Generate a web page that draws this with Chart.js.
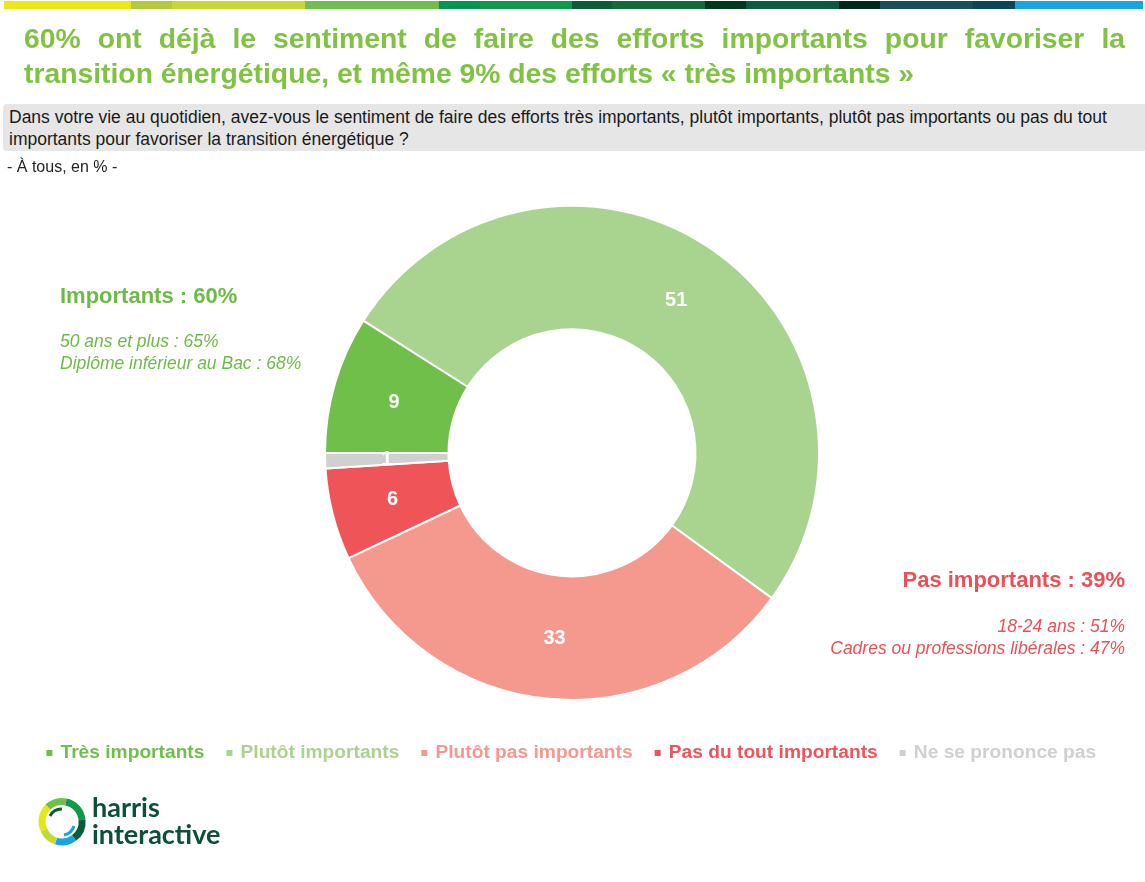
<!DOCTYPE html>
<html lang="fr">
<head>
<meta charset="utf-8">
<script src="https://cdn.jsdelivr.net/npm/chart.js@4.4.1/dist/chart.umd.min.js"></script>
<style>
  html, body { margin: 0; padding: 0; background: #fff; }
  body { width: 1145px; height: 882px; position: relative; overflow: hidden; font-family: "Liberation Sans", Arial, sans-serif; }
  #chartWrap { position: absolute; left: 0; top: 0; width: 1145px; height: 882px; }
  .abs { position: absolute; }
  #topbar { position: absolute; left: 0; top: 1px; height: 8px; width: 1145px; }
  #topbar div { position: absolute; top: 0; height: 8px; }
  #title { left: 24px; top: 21px; width: 1101px; color: #80C342; font-weight: bold; font-size: 28.3px; line-height: 35px; }
  #title .l1 { text-align: justify; text-align-last: justify; white-space: normal; }
  #question { left: 3px; top: 104px; width: 1136px; height: 45px; background: #E6E6E6; border-radius: 4px 0 0 4px; padding: 2px 0 0 6px; font-size: 17.5px; line-height: 22px; color: #1a1a1a; white-space: nowrap; }
  #base { left: 7px; top: 158px; font-size: 16px; line-height: 18px; color: #222; }
  .big { font-weight: bold; font-size: 22px; line-height: 24px; white-space: nowrap; }
  .it { font-style: italic; font-size: 17.5px; line-height: 22px; white-space: nowrap; }
  #leftBig { left: 60px; top: 284px; color: #6DBB47; }
  #leftIt { left: 60px; top: 330px; color: #6DBB47; }
  #rightBig { right: 20px; top: 568px; color: #EE4F55; text-align: right; }
  #rightIt { right: 20px; top: 615px; color: #EE4F55; text-align: right; }
  #logoText { left: 92px; top: 793px; color: #0D4F3A; font-family: Lato, "Liberation Sans", sans-serif; font-weight: bold; font-size: 27px; line-height: 27px; }
</style>
</head>
<body>
<div id="topbar"></div>
<div id="chartWrap"><canvas id="c" width="1145" height="882"></canvas></div>

<div id="title" class="abs">
  <div class="l1">60% ont déjà le sentiment de faire des efforts importants pour favoriser la</div>
  <div>transition énergétique, et même 9% des efforts « très importants »</div>
</div>
<div id="question" class="abs">Dans votre vie au quotidien, avez-vous le sentiment de faire des efforts très importants, plutôt importants, plutôt pas importants ou pas du tout<br>importants pour favoriser la transition énergétique ?</div>
<div id="base" class="abs">- À tous, en % -</div>

<div id="leftBig" class="abs big">Importants : 60%</div>
<div id="leftIt" class="abs it">50 ans et plus : 65%<br>Diplôme inférieur au Bac : 68%</div>
<div id="rightBig" class="abs big">Pas importants : 39%</div>
<div id="rightIt" class="abs it">18-24 ans : 51%<br>Cadres ou professions libérales : 47%</div>

<svg class="abs" style="left:36px;top:796px" width="52" height="52" viewBox="0 0 52 52">
  <g fill="none" stroke-width="7">
    <path d="M 8 34 A 20 20 0 0 1 12 11" stroke="#E5E71A"/>
    <path d="M 12 11 A 20 20 0 0 1 30 6" stroke="#6FBF4A"/>
    <path d="M 30 6 A 20 20 0 0 1 46 24" stroke="#0E9A4D"/>
    <path d="M 46 24 A 20 20 0 0 1 38 42" stroke="#0A5C3A"/>
    <path d="M 38 42 A 20 20 0 0 1 20 45" stroke="#16A5DE"/>
    <path d="M 20 45 A 20 20 0 0 1 8 34" stroke="#C4D934"/>
  </g>
  <g fill="none" stroke-width="3">
    <path d="M 14 20 A 13 13 0 0 1 26 13" stroke="#0A5C3A"/>
    <path d="M 38 30 A 13 13 0 0 1 28 39" stroke="#16A5DE"/>
  </g>
</svg>
<div id="logoText" class="abs">harris<br>interactive</div>

<script>
// ---- data ----
const categories = ["Très importants", "Plutôt importants", "Plutôt pas importants", "Pas du tout importants", "Ne se prononce pas"];
const values = [9, 51, 33, 6, 1];
const sliceColors = ["#70BF4A", "#A9D48F", "#F5988E", "#EF5558", "#D1D0D0"];
const topBarColors = ["#EDE71A", "#B0CC3A", "#C4D934", "#6FBF4E", "#009650", "#0E9A4D", "#0A5C3A", "#136A3A", "#003820", "#0B5A42", "#00281C", "#174F5A", "#0A4658", "#16A5DE"];
const topBarEdges = [4, 131, 172, 305, 439, 480, 572, 612, 705, 746, 839, 880, 973, 1015, 1143];

// top decorative bar
const tb = document.getElementById('topbar');
topBarColors.forEach((c, i) => {
  const d = document.createElement('div');
  d.style.left = topBarEdges[i] + 'px';
  d.style.width = (topBarEdges[i + 1] - topBarEdges[i]) + 'px';
  d.style.background = c;
  tb.appendChild(d);
});

const sliceLabels = {
  id: 'sliceLabels',
  afterDatasetsDraw(chart) {
    const ctx = chart.ctx;
    const meta = chart.getDatasetMeta(0);
    ctx.save();
    ctx.fillStyle = '#ffffff';
    ctx.font = 'bold 20px "Liberation Sans", Arial, sans-serif';
    ctx.textAlign = 'center';
    ctx.textBaseline = 'middle';
    meta.data.forEach((arc, i) => {
      const p = arc.tooltipPosition();
      ctx.fillText(String(values[i]), p.x, p.y + 1);
    });
    ctx.restore();
  }
};

new Chart(document.getElementById('c'), {
  type: 'doughnut',
  data: {
    labels: categories,
    datasets: [{
      data: values,
      backgroundColor: sliceColors,
      borderColor: '#ffffff',
      borderWidth: 2,
      hoverOffset: 0
    }]
  },
  options: {
    responsive: false,
    animation: false,
    devicePixelRatio: 1,
    rotation: 270,
    cutout: '50%',
    radius: 247,
    layout: { padding: { top: 186, bottom: 109.5, left: 2, right: 3 } },
    plugins: {
      tooltip: { enabled: false },
      legend: {
        position: 'bottom',
        labels: {
          usePointStyle: true,
          pointStyle: 'rect',
          boxWidth: 3,
          boxHeight: 6,
          padding: 23.5,
          font: { family: '"Liberation Sans", Arial, sans-serif', size: 19.2, weight: 'bold' },
          generateLabels(chart) {
            return categories.map((t, i) => ({
              text: t,
              fillStyle: sliceColors[i],
              strokeStyle: sliceColors[i],
              lineWidth: 0,
              fontColor: sliceColors[i],
              pointStyle: 'rect',
              hidden: false,
              index: i
            }));
          }
        }
      }
    }
  },
  plugins: [sliceLabels]
});
</script>
</body>
</html>
